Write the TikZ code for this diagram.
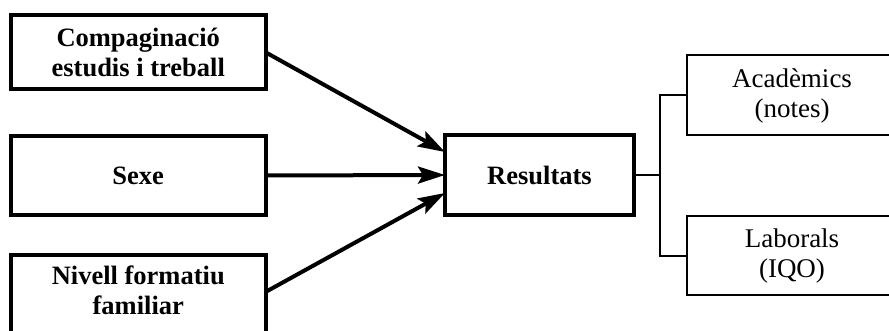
\documentclass[tikz,border=0pt]{standalone}
\usepackage{fontspec}
\setmainfont{Liberation Serif}
\usetikzlibrary{arrows.meta,calc}
\begin{document}
\begin{tikzpicture}[x=1pt,y=1pt,
  thickbox/.style={draw,line width=4pt,inner sep=0pt,outer sep=0pt,align=center,
    font=\fontsize{26.5}{30}\selectfont\bfseries},
  openbox/.style={inner sep=0pt,outer sep=0pt,align=center,
    font=\fontsize{27}{30}\selectfont},
  thinline/.style={line width=2pt},
  arr/.style={line width=4pt,-{Stealth[length=27pt,width=17pt,inset=5pt]}}]
\useasboundingbox (0,0) rectangle (889,331);
\clip (0,0) rectangle (889,331);
\node[thickbox,minimum width=254.5pt,minimum height=74.5pt] (b1) at (138.25,278.75) {Compaginació\\estudis i treball};
\node[thickbox,minimum width=254.5pt,minimum height=79pt] (b2) at (138.25,155.5) {Sexe};
\node[thickbox,draw=none,minimum width=254.5pt,minimum height=70pt] (b3) at (138.25,41) {Nivell formatiu\\familiar};
\coordinate (b3a) at ($(b3.south west)+(0,-20)$);
\coordinate (b3b) at ($(b3.south east)+(0,-20)$);
\draw[line width=4pt] (b3a) -- (b3.north west) -- (b3.north east) -- (b3b);
\node[thickbox,minimum width=189pt,minimum height=80pt] (res) at (539.5,156) {Resultats};
\node[openbox,minimum width=211pt,minimum height=80pt] (a1) at (792,235.5) {Acadèmics\\(notes)};
\node[openbox,minimum width=211pt,minimum height=79.5pt] (a2) at (792,75.25) {Laborals\\(IQO)};
\draw[thinline] (a1.north east) -- (a1.north west) -- (a1.south west) -- (a1.south east);
\draw[thinline] (a2.north east) -- (a2.north west) -- (a2.south west) -- (a2.south east);
\draw[arr] (b1.east) -- ($(res.west)+(0,23)$);
\draw[arr] (b2.east) -- (res.west);
\draw[arr] ($(b3.east)+(0,-2)$) -- ($(res.west)+(0,-18)$);
\coordinate (j) at (660,156);
\draw[thinline] (res.east) -- (j);
\draw[thinline] (a1.west) -| (j) |- (a2.west);
\end{tikzpicture}
\end{document}
